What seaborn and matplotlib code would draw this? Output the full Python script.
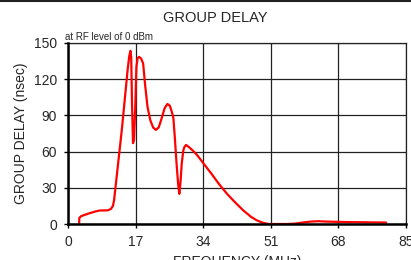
import pandas as pd
import seaborn as sns
import matplotlib.pyplot as plt
from matplotlib.lines import Line2D

# frequency (MHz) and group delay (nsec)
freq = [2.8, 2.85, 3.3, 5.0, 7.0, 8.0, 10.0, 10.8, 11.3, 11.6, 12.0, 12.6,
        13.5, 14.3, 15.0, 15.4, 15.7, 15.9, 16.1, 16.35, 16.6, 16.9, 17.2,
        17.5, 17.9, 18.4, 18.9, 19.4, 20.0, 20.7, 21.4, 22.1, 22.8, 23.5,
        24.3, 25.0, 25.6, 26.1, 26.5, 26.9, 27.3, 27.7, 28.0, 28.3, 28.6,
        29.0, 29.3, 29.7, 30.5, 31.5, 32.5, 34.0, 36.0, 38.0, 40.0, 42.0,
        44.0, 46.0, 47.5, 49.0, 50.5, 55.0, 57.0, 59.0, 61.0, 63.0, 65.0,
        70.0, 75.0, 80.0]
delay = [1.0, 5.0, 6.5, 8.5, 10.5, 11.2, 11.3, 12.5, 15.0, 20.0, 32.0, 50.0,
         77.0, 104.0, 128.0, 139.0, 143.5, 138.0, 100.0, 67.0, 70.0, 95.0, 130.0,
         137.5, 138.5, 137.0, 133.0, 115.0, 97.0, 86.0, 80.0, 78.0, 80.0, 87.0,
         96.0, 99.5, 98.0, 93.0, 88.0, 70.0, 50.0, 33.0, 25.0, 35.0, 50.0,
         61.0, 64.0, 65.5, 63.5, 60.5, 57.0, 50.5, 42.0, 33.0, 25.0, 18.0,
         11.5, 6.0, 3.0, 1.0, 0.0, 0.0, 0.3, 1.2, 2.0, 2.3, 2.0,
         1.6, 1.4, 1.2]

x_ticks = [0, 17, 34, 51, 68, 85]
y_ticks = [0, 30, 60, 90, 120, 150]

df = pd.DataFrame({"freq": freq, "delay": delay})

sns.set_style("white")
plt.rcParams["font.family"] = ["Liberation Sans", "DejaVu Sans"]

fig = plt.figure(figsize=(4.11, 2.60), dpi=100)
ax = fig.add_axes([68 / 411, 1 - 224 / 260, (406 - 68) / 411, (224 - 43) / 260])

sns.lineplot(data=df, x="freq", y="delay", color="#ff0000", linewidth=1.6, ax=ax, zorder=1)

ax.set_xlim(0, 85)
ax.set_ylim(0, 150)
ax.set_xticks(x_ticks)
ax.set_yticks(y_ticks)
ax.grid(True, color="#222222", linewidth=0.9)
ax.set_axisbelow(True)
ax.tick_params(axis="both", labelsize=10, length=3, width=1, color="black",
               direction="out", bottom=True, left=True, pad=5)
for side in ["left", "bottom"]:
    ax.spines[side].set_color("black")
    ax.spines[side].set_linewidth(1.8)
    ax.spines[side].set_zorder(3)
for side in ["top", "right"]:
    ax.spines[side].set_color("#222222")
    ax.spines[side].set_linewidth(0.9)

ax.set_xlabel("")
ax.set_ylabel("GROUP DELAY (nsec)", fontsize=10, labelpad=4)

fig.text(215 / 411, 1 - 18 / 260, "GROUP DELAY", ha="center", va="center", fontsize=10.5)
fig.text(65 / 411, 1 - 37 / 260, "at RF level of 0 dBm", ha="left", va="center", fontsize=7)
fig.text(237 / 411, 1 - 255 / 260, "FREQUENCY (MHz)", ha="center", va="top", fontsize=10)

fig.add_artist(Line2D([0, 1], [1 - 0.8 / 260, 1 - 0.8 / 260], transform=fig.transFigure,
                      color="#222222", linewidth=1.5))

fig.savefig("out.png", dpi=100)
